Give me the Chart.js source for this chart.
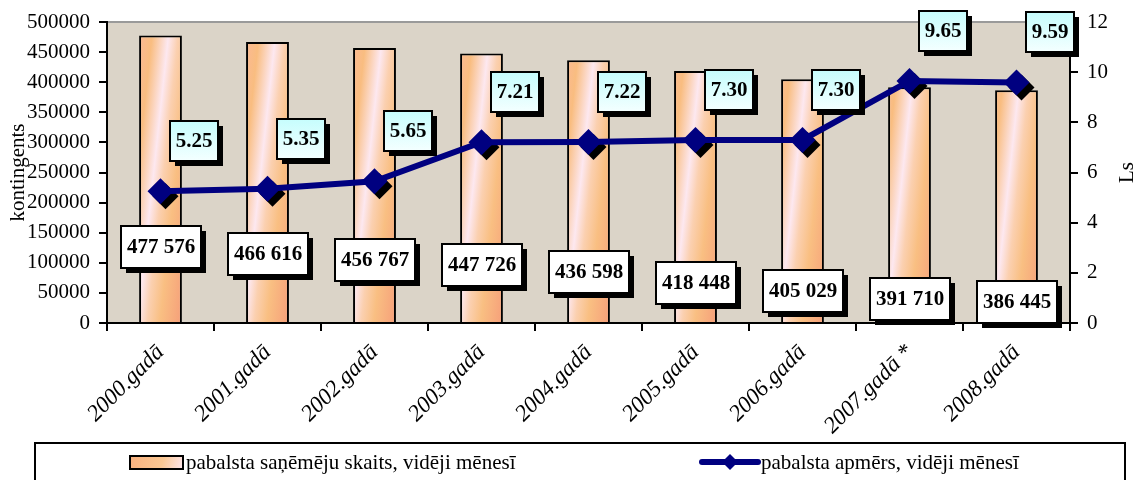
<!DOCTYPE html>
<html>
<head>
<meta charset="utf-8">
<script src="https://cdn.jsdelivr.net/npm/chart.js@4.4.1/dist/chart.umd.min.js"></script>
<style>
  html, body { margin: 0; padding: 0; background: #ffffff; }
  #wrap { width: 1136px; height: 480px; position: relative; }
</style>
</head>
<body>
<div id="wrap"><canvas id="c" width="1136" height="480"></canvas></div>
<script>
const categories = ['2000.gadā', '2001.gadā', '2002.gadā', '2003.gadā', '2004.gadā', '2005.gadā', '2006.gadā', '2007.gadā *', '2008.gadā'];
const recipients = [477576, 466616, 456767, 447726, 436598, 418448, 405029, 391710, 386445];
const benefit = [5.25, 5.35, 5.65, 7.21, 7.22, 7.30, 7.30, 9.65, 9.59];
const leftTicks = [0, 50000, 100000, 150000, 200000, 250000, 300000, 350000, 400000, 450000, 500000];
const rightTicks = [0, 2, 4, 6, 8, 10, 12];
const seriesNames = ['pabalsta saņēmēju skaits, vidēji mēnesī', 'pabalsta apmērs, vidēji mēnesī'];
const axisTitles = ['kontingents', 'Ls'];

const SERIF = '"Liberation Serif", "Times New Roman", serif';
const NAVY = '#000080';

function fmtSpace(v) {
  return String(v).replace(/\B(?=(\d{3})+(?!\d))/g, ' ');
}

function barGradient(context) {
  const chart = context.chart;
  const area = chart.chartArea;
  if (!area) return '#f9b27c';
  const el = context.element;
  const x = el && el.x !== undefined ? el.x : chart.scales.x.getPixelForValue(context.dataIndex);
  const w = 44;
  const x0 = x - w / 2;
  const g = chart.ctx.createLinearGradient(x0, area.top, x0 + 74, area.top + 8);
  g.addColorStop(0.0, '#fbb898');
  g.addColorStop(0.2, '#f9bd80');
  g.addColorStop(0.42, '#fde8f0');
  g.addColorStop(0.55, '#fbd0b0');
  g.addColorStop(0.72, '#f9bf82');
  g.addColorStop(1.0, '#f6a07a');
  return g;
}

function diamond(ctx, x, y, r) {
  ctx.beginPath();
  ctx.moveTo(x, y - r);
  ctx.lineTo(x + r, y);
  ctx.lineTo(x, y + r);
  ctx.lineTo(x - r, y);
  ctx.closePath();
  ctx.fill();
}

function drawBox(ctx, cx, cy, w, h, text, fill) {
  const x = Math.round(cx - w / 2), y = Math.round(cy - h / 2);
  ctx.save();
  ctx.fillStyle = '#000';
  ctx.fillRect(x + 5, y + 5, w, h);
  if (fill === 'cyan') {
    const g = ctx.createLinearGradient(0, y, 0, y + h);
    g.addColorStop(0, '#c6fdfd');
    g.addColorStop(1, '#f4ffff');
    ctx.fillStyle = g;
  } else {
    ctx.fillStyle = '#ffffff';
  }
  ctx.fillRect(x, y, w, h);
  ctx.lineWidth = 2;
  ctx.strokeStyle = '#000';
  ctx.strokeRect(x, y, w, h);
  ctx.fillStyle = '#000';
  ctx.font = 'bold 21px ' + SERIF;
  ctx.textAlign = 'center';
  ctx.textBaseline = 'middle';
  ctx.fillText(text, x + w / 2, y + h / 2 + 1);
  ctx.restore();
}

const decorPlugin = {
  id: 'decor',
  beforeDraw(chart) {
    const { ctx, chartArea: a } = chart;
    ctx.save();
    ctx.fillStyle = '#dbd4c8';
    ctx.fillRect(a.left, a.top, a.right - a.left, a.bottom - a.top);
    ctx.strokeStyle = '#9a9a9a';
    ctx.lineWidth = 2;
    ctx.beginPath();
    ctx.moveTo(a.left, a.top);
    ctx.lineTo(a.right, a.top);
    ctx.stroke();
    ctx.restore();
  },
  beforeDatasetDraw(chart, args) {
    if (args.index !== 1) return;
    const ctx = chart.ctx;
    const meta = chart.getDatasetMeta(1);
    ctx.save();
    ctx.fillStyle = '#000';
    meta.data.forEach(p => diamond(ctx, p.x + 5, p.y + 5, 13));
    ctx.restore();
  },
  afterDatasetsDraw(chart) {
    const ctx = chart.ctx;
    const barMeta = chart.getDatasetMeta(0);
    const lineMeta = chart.getDatasetMeta(1);
    barMeta.data.forEach((b, i) => {
      drawBox(ctx, b.x, b.y + 212, 80, 42, fmtSpace(recipients[i]), 'white');
    });
    lineMeta.data.forEach((p, i) => {
      drawBox(ctx, p.x + 33, p.y - 50, 48, 40, benefit[i].toFixed(2), 'cyan');
    });
  },
  afterDraw(chart) {
    const ctx = chart.ctx;
    const a = chart.chartArea;
    ctx.save();
    ctx.fillStyle = '#000';
    ctx.font = '21px ' + SERIF;
    ctx.textAlign = 'center';
    ctx.textBaseline = 'middle';
    ctx.translate(1127, (a.top + a.bottom) / 2);
    ctx.rotate(-Math.PI / 2);
    ctx.fillText(axisTitles[1], 0, 0);
    ctx.restore();

    ctx.save();
    ctx.strokeStyle = '#000';
    ctx.lineWidth = 2;
    ctx.strokeRect(35, 443, 1090, 50);
    const sg = ctx.createLinearGradient(130, 455, 183, 470);
    sg.addColorStop(0, '#f8b07e');
    sg.addColorStop(0.6, '#fbc894');
    sg.addColorStop(1, '#fde6ee');
    ctx.fillStyle = sg;
    ctx.fillRect(130, 456, 53, 13);
    ctx.lineWidth = 2;
    ctx.strokeRect(130, 456, 53, 13);
    ctx.fillStyle = '#000';
    ctx.font = '21px ' + SERIF;
    ctx.textAlign = 'left';
    ctx.textBaseline = 'middle';
    ctx.fillText(seriesNames[0], 186, 463);
    ctx.strokeStyle = NAVY;
    ctx.lineWidth = 6;
    ctx.lineCap = 'round';
    ctx.beginPath();
    ctx.moveTo(702, 462);
    ctx.lineTo(758, 462);
    ctx.stroke();
    ctx.fillStyle = NAVY;
    diamond(ctx, 730, 462, 8);
    ctx.fillStyle = '#000';
    ctx.fillText(seriesNames[1], 761, 463);
    ctx.restore();
  }
};

const ctx = document.getElementById('c').getContext('2d');
new Chart(ctx, {
  type: 'bar',
  data: {
    labels: categories,
    datasets: [
      {
        type: 'bar',
        label: seriesNames[0],
        data: recipients,
        yAxisID: 'y',
        backgroundColor: barGradient,
        borderColor: '#000',
        borderWidth: 2,
        borderSkipped: 'bottom',
        barPercentage: 0.4,
        categoryPercentage: 1.0,
        order: 2
      },
      {
        type: 'line',
        label: seriesNames[1],
        data: benefit,
        yAxisID: 'y2',
        borderColor: NAVY,
        borderWidth: 6,
        backgroundColor: NAVY,
        pointStyle: 'rectRot',
        pointRadius: 13,
        pointHoverRadius: 13,
        pointBackgroundColor: NAVY,
        pointBorderWidth: 0,
        tension: 0,
        order: 1
      }
    ]
  },
  options: {
    responsive: false,
    animation: false,
    events: [],
    layout: { padding: { top: 22, left: 0, right: 0, bottom: 0 } },
    plugins: {
      legend: { display: false },
      tooltip: { enabled: false }
    },
    scales: {
      x: {
        grid: { display: true, drawOnChartArea: false, drawTicks: true, tickLength: 8, color: '#000', lineWidth: 2, offset: true },
        border: { display: true, color: '#000', width: 2 },
        ticks: {
          color: '#000',
          font: { family: SERIF, size: 23, style: 'italic' },
          minRotation: 45,
          maxRotation: 45,
          padding: 8,
          autoSkip: false
        },
        afterFit(scale) { scale.height = 157; }
      },
      y: {
        position: 'left',
        min: 0,
        max: 500000,
        afterBuildTicks(scale) { scale.ticks = leftTicks.map(v => ({ value: v })); },
        grid: { display: true, drawOnChartArea: false, tickLength: 8, color: '#000', lineWidth: 2 },
        border: { display: true, color: '#000', width: 2 },
        ticks: {
          color: '#000',
          font: { family: SERIF, size: 21 },
          padding: 9,
          callback: v => String(v)
        },
        title: {
          display: true,
          text: axisTitles[0],
          color: '#000',
          font: { family: SERIF, size: 21 },
          padding: { top: 6, bottom: 0 }
        },
        afterFit(scale) { scale.width = 107; }
      },
      y2: {
        position: 'right',
        min: 0,
        max: 12,
        afterBuildTicks(scale) { scale.ticks = rightTicks.map(v => ({ value: v })); },
        grid: { display: true, drawOnChartArea: false, tickLength: 8, color: '#000', lineWidth: 2 },
        border: { display: true, color: '#000', width: 2 },
        ticks: {
          color: '#000',
          font: { family: SERIF, size: 21 },
          padding: 9,
          callback: v => String(v)
        },
        afterFit(scale) { scale.width = 66; }
      }
    }
  },
  plugins: [decorPlugin]
});
</script>
</body>
</html>
